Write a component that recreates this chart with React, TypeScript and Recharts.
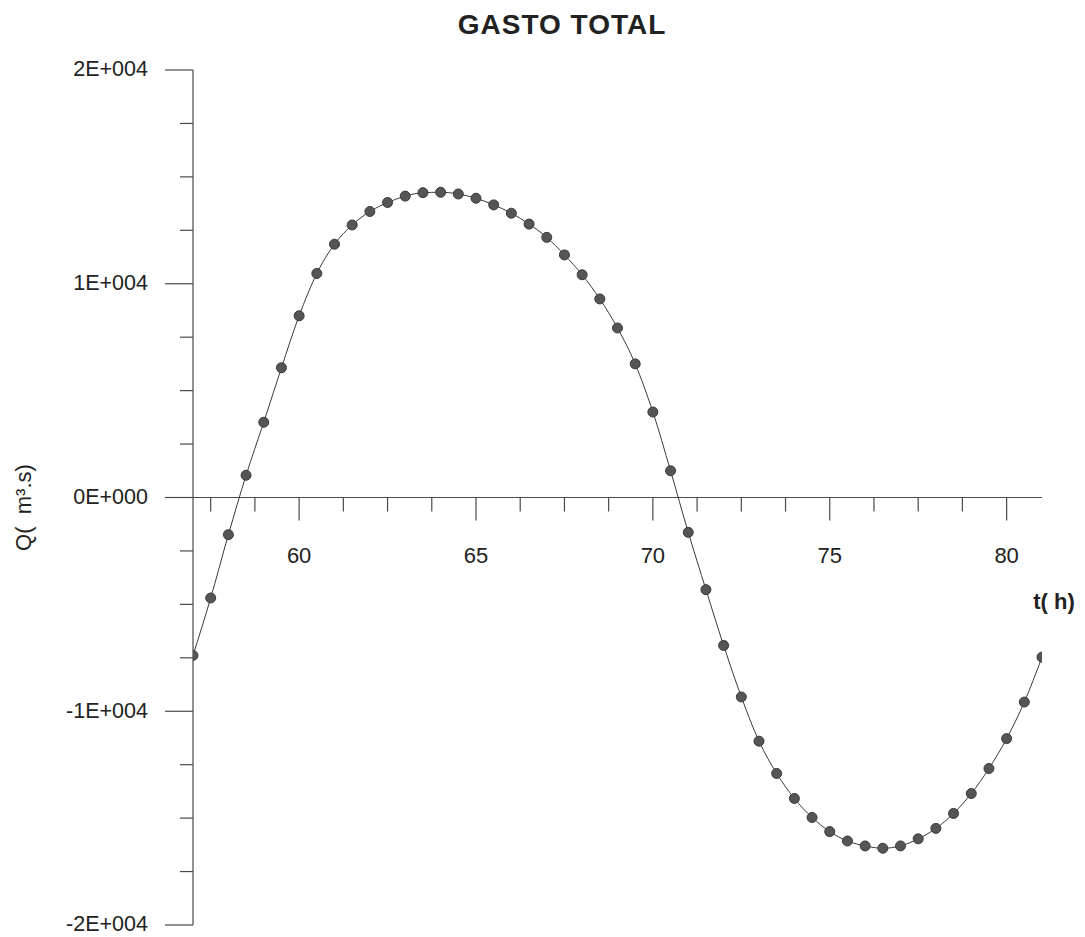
import { LineChart, Line, XAxis, YAxis, ReferenceLine } from 'recharts';

// hourly samples, every half hour
const hours = [
  57, 57.5, 58, 58.5, 59, 59.5, 60, 60.5, 61, 61.5, 62, 62.5, 63, 63.5, 64, 64.5,
  65, 65.5, 66, 66.5, 67, 67.5, 68, 68.5, 69, 69.5, 70, 70.5, 71, 71.5, 72, 72.5,
  73, 73.5, 74, 74.5, 75, 75.5, 76, 76.5, 77, 77.5, 78, 78.5, 79, 79.5, 80, 80.5, 81,
];

// total discharge Q (m3/s)
const flow = [
  -7390, -4700, -1740, 1040, 3520, 6070, 8500, 10480, 11850, 12750, 13380, 13800, 14100, 14260, 14280, 14200,
  14000, 13690, 13300, 12790, 12170, 11350, 10420, 9290, 7930, 6250, 4000, 1250, -1630, -4310, -6920, -9330,
  -11400, -12910, -14080, -14970, -15630, -16070, -16300, -16410, -16300, -15970, -15480, -14780, -13850, -12680, -11280, -9570, -7470,
];

const xTicks = [
  57.5, 58.75, 60, 61.25, 62.5, 63.75, 65, 66.25, 67.5, 68.75, 70, 71.25,
  72.5, 73.75, 75, 76.25, 77.5, 78.75, 80,
];
const xLabeled = [60, 65, 70, 75, 80];

const yTicks = [
  -20000, -17500, -15000, -12500, -10000, -7500, -5000, -2500, 0,
  2500, 5000, 7500, 10000, 12500, 15000, 17500, 20000,
];
const yLabeled = [-20000, -10000, 0, 10000, 20000];

const data = hours.map((t, i) => ({ t, q: flow[i] }));

const WIDTH = 1085;
const HEIGHT = 937;
const MARGIN = { top: 70, right: 43, bottom: 2, left: 0 };
const Y_AXIS_W = 193;
const X_AXIS_H = 10;
const Y_MIN = -20000;
const Y_MAX = 20000;
const PLOT_H = HEIGHT - MARGIN.top - MARGIN.bottom - X_AXIS_H;
// the time axis crosses at Q = 0, this far above the bottom of the plot
const ZERO_LIFT = (PLOT_H * (0 - Y_MIN)) / (Y_MAX - Y_MIN);

const FONT = '"Liberation Sans", Arial, sans-serif';
const AXIS = '#4a4a4a';
const INK = '#222';

const sci = (v: number) => {
  if (v === 0) return '0E+000';
  const exp = Math.floor(Math.log10(Math.abs(v)));
  const mant = v / Math.pow(10, exp);
  return `${mant}E+${String(exp).padStart(3, '0')}`;
};

const XTick = ({ x, y, payload }: any) => {
  const y0 = y - ZERO_LIFT;
  const major = xLabeled.includes(payload.value);
  return (
    <g>
      <line x1={x} x2={x} y1={y0} y2={y0 + (major ? 23 : 14)} stroke={AXIS} strokeWidth={1.2} />
      {major && (
        <text x={x} y={y0 + 65} textAnchor="middle" fontSize={22} fontFamily={FONT} fill={INK}>
          {payload.value}
        </text>
      )}
    </g>
  );
};

const YTick = ({ x, y, payload }: any) => {
  const major = yLabeled.includes(payload.value);
  return (
    <g>
      <line x1={x - (major ? 28 : 13)} x2={x} y1={y} y2={y} stroke={AXIS} strokeWidth={1.2} />
      {major && (
        <text x={x - 45} y={y} dy="0.3em" textAnchor="end" fontSize={21.5} fontFamily={FONT} fill={INK}>
          {sci(payload.value)}
        </text>
      )}
    </g>
  );
};

const YTitle = ({ viewBox }: any) => {
  const cx = viewBox.x + 23;
  const cy = viewBox.y + viewBox.height / 2 + 10;
  return (
    <text
      x={cx}
      y={cy}
      transform={`rotate(-90 ${cx} ${cy})`}
      textAnchor="middle"
      dy="0.36em"
      fontSize={22}
      fontFamily={FONT}
      fill={INK}
      style={{ whiteSpace: 'pre' }}
    >
      {'Q(  m³.s)'}
    </text>
  );
};

const TimeTitle = ({ viewBox }: any) => (
  <text
    x={viewBox.x + viewBox.width + 12}
    y={viewBox.y + 111}
    textAnchor="middle"
    fontSize={22}
    fontWeight="bold"
    fontFamily={FONT}
    fill={INK}
    style={{ whiteSpace: 'pre' }}
  >
    {'t( h)'}
  </text>
);

export default function App() {
  return (
    <div style={{ position: 'absolute', left: 0, top: 0, width: WIDTH, height: HEIGHT, background: '#fff' }}>
      <div
        style={{
          position: 'absolute',
          left: 362,
          top: 11,
          width: 400,
          textAlign: 'center',
          fontFamily: FONT,
          fontWeight: 'bold',
          fontSize: 28,
          lineHeight: '28px',
          letterSpacing: 1,
          color: INK,
        }}
      >
        GASTO TOTAL
      </div>
      <LineChart width={WIDTH} height={HEIGHT} data={data} margin={MARGIN}>
        <XAxis
          dataKey="t"
          type="number"
          domain={[57, 81]}
          ticks={xTicks}
          interval={0}
          height={X_AXIS_H}
          axisLine={false}
          tickLine={false}
          tickSize={0}
          tickMargin={0}
          tick={<XTick />}
          allowDataOverflow
        />
        <YAxis
          type="number"
          domain={[Y_MIN, Y_MAX]}
          ticks={yTicks}
          interval={0}
          width={Y_AXIS_W}
          axisLine={{ stroke: AXIS, strokeWidth: 1.2 }}
          tickLine={false}
          tickSize={0}
          tickMargin={0}
          tick={<YTick />}
          label={{ content: <YTitle /> }}
          allowDataOverflow
        />
        <ReferenceLine y={0} stroke={AXIS} strokeWidth={1.2} label={{ content: <TimeTitle /> }} />
        <Line
          type="monotone"
          dataKey="q"
          stroke="#3a3a3a"
          strokeWidth={1}
          dot={{ r: 5, fill: '#555', stroke: '#3a3a3a', strokeWidth: 1 }}
          activeDot={false}
          isAnimationActive={false}
        />
      </LineChart>
    </div>
  );
}
